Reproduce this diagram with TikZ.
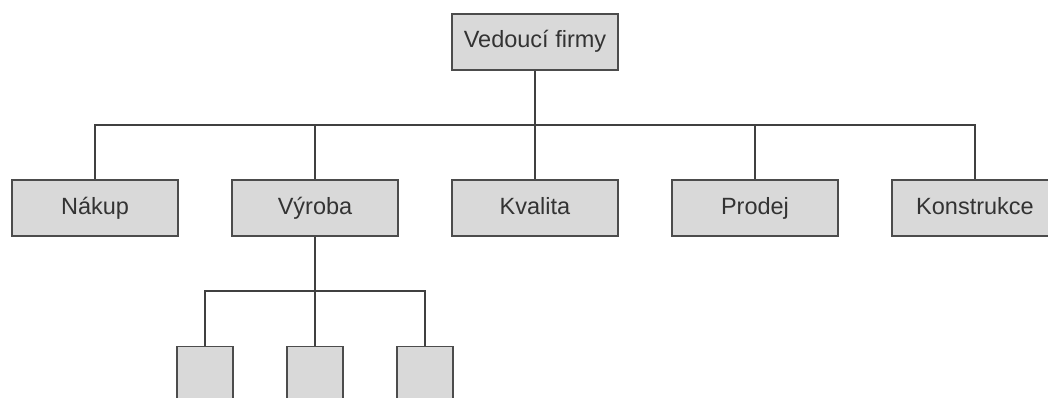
\documentclass[tikz,border=0pt]{standalone}
\usepackage{fontspec}
\setmainfont{Liberation Sans}
\begin{document}
\begin{tikzpicture}[x=1pt,y=-1pt,
  box/.style={draw=black!70,fill=black!15,line width=1.3pt,minimum width=166pt,minimum height=56pt,inner sep=0pt,text height=17pt,text depth=5pt,font=\fontsize{23.5}{28}\selectfont,text=black!80},
  sbox/.style={draw=black!70,fill=black!15,line width=1.3pt,minimum width=56pt,minimum height=80pt,inner sep=0pt,anchor=north},
  conn/.style={draw=black!75,line width=1.3pt}]
\useasboundingbox (0,0) rectangle (1048,398);
\clip (0,0) rectangle (1048,398);
\node[box] (top) at (535,42) {Vedoucí firmy};
\node[box] (nakup) at (95,208) {Nákup};
\node[box] (vyroba) at (315,208) {Výroba};
\node[box] (kval) at (535,208) {Kvalita};
\node[box] (prodej) at (755,208) {Prodej};
\node[box] (konst) at (975,208) {Konstrukce};
\node[sbox] (s1) at (205,346) {};
\node[sbox] (s2) at (315,346) {};
\node[sbox] (s3) at (425,346) {};
\coordinate (bus) at (535,125);
\draw[conn] (top.south) -- (kval.north);
\draw[conn] (nakup.north) |- (bus) -| (konst.north);
\draw[conn] (vyroba.north) -- (vyroba.north |- bus);
\draw[conn] (prodej.north) -- (prodej.north |- bus);
\coordinate (sbus) at (315,291);
\draw[conn] (vyroba.south) -- (s2.north);
\draw[conn] (s1.north) |- (sbus) -| (s3.north);
\end{tikzpicture}
\end{document}
